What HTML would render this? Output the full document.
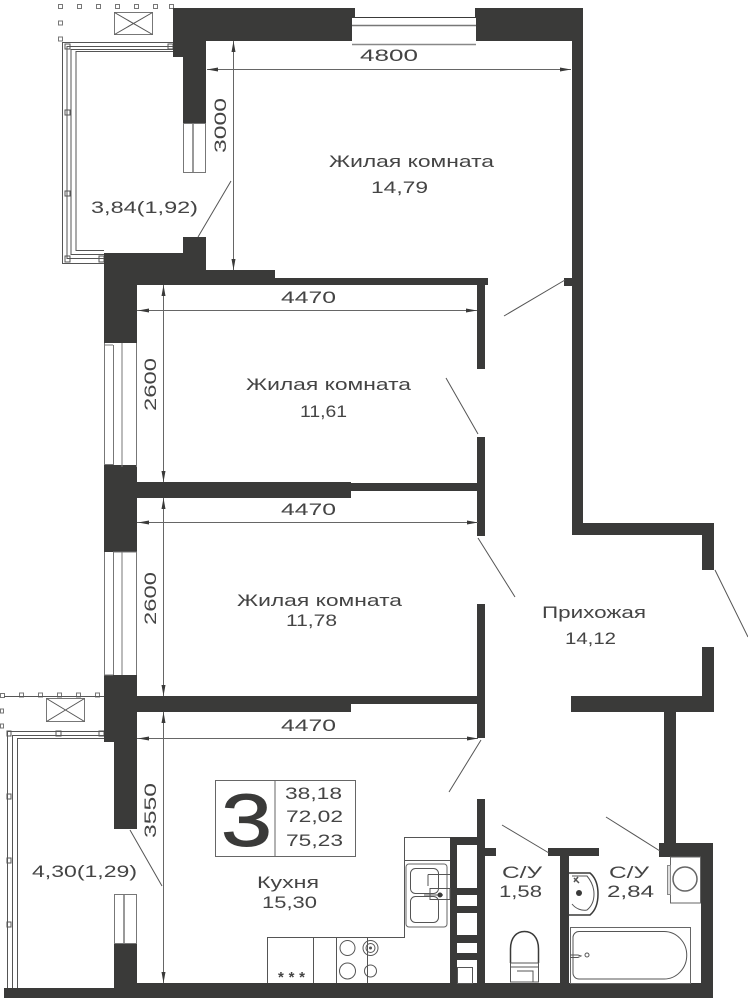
<!DOCTYPE html>
<html><head><meta charset="utf-8"><style>
html,body{margin:0;padding:0;background:#fff}
svg{display:block}
text{font-family:"Liberation Sans",sans-serif;fill:#444;font-size:17px}
.d{fill:#3a3a39}
.l{stroke:#555;stroke-width:1;fill:none}
.g{stroke:#777;stroke-width:1;fill:#fff}
.a{fill:#3a3a39}
</style></head><body>
<svg width="748" height="1000" viewBox="0 0 748 1000" xmlns="http://www.w3.org/2000/svg">
<g class="g">
<rect x="58.500" y="4.500" width="4" height="4"/><rect x="77.500" y="4.500" width="4" height="4"/><rect x="96.500" y="4.500" width="4" height="4"/><rect x="115.500" y="4.500" width="4" height="4"/><rect x="134.500" y="4.500" width="4" height="4"/><rect x="153.500" y="4.500" width="4" height="4"/><rect x="169.500" y="4.500" width="4" height="4"/><rect x="58.500" y="21" width="4" height="4"/><rect x="58.500" y="37" width="4" height="4"/>
<rect x="114.500" y="12.500" width="38" height="22"/>
</g>
<path class="l" d="M114.500 12.500L152.500 34.500M152.500 12.500L114.500 34.500"/>
<path class="l" d="M173 42.500H62.500V263.500H104M173 46.500H67V258.500H104M173 49.500H71V254.500H104M173 51.500H76V250.500H104"/>
<path class="l" d="M65 44v5h5v-5zM65 110v5h5v-5zM65 191v5h5v-5zM65 256v6h5v-6zM99 256v6h5v-6zM168 44v5h5v-5z"/>
<g class="g">
<rect x="0.500" y="693.500" width="4" height="4"/><rect x="19.500" y="693" width="4" height="4"/><rect x="38.500" y="693" width="4" height="4"/><rect x="57.500" y="693" width="4" height="4"/><rect x="76.500" y="693" width="4" height="4"/><rect x="95.500" y="693" width="4" height="4"/><rect x="0.500" y="709" width="3" height="4"/><rect x="0.500" y="724" width="3" height="4"/>
<rect x="46.500" y="698.500" width="38" height="23"/>
</g>
<path class="l" d="M46.500 698.500L84.500 721.500M84.500 698.500L46.500 721.500"/>
<path class="l" d="M4 696.500H104M114 731.500H7.500V990M114 735.500H12.500V990M114 738.500H17.500V990"/>
<path class="l" d="M56 731v5h5v-5zM99 731v5h5v-5zM7 794v5h4v-5zM7 858v5h4v-5zM7 922v5h4v-5zM7 731v5h4v-5z"/>
<g class="d">
<rect x="173" y="8" width="410" height="33"/>
<rect x="173" y="41" width="10" height="16"/>
<rect x="183" y="41" width="23" height="82"/>
<rect x="572" y="41" width="11" height="494"/>
<rect x="572" y="523" width="142" height="12"/>
<rect x="702" y="535" width="12" height="35"/>
<rect x="564" y="278" width="8" height="8"/>
<rect x="702" y="647" width="12" height="65"/>
<rect x="571" y="696" width="143" height="16"/>
<rect x="664" y="712" width="12" height="133"/>
<rect x="659" y="843" width="54" height="14"/>
<rect x="701" y="857" width="12" height="127"/>
<rect x="136" y="983" width="577" height="15"/>
<rect x="4" y="988" width="132" height="10"/>
<rect x="114" y="943" width="23" height="45"/>
<rect x="104" y="253" width="79" height="17"/>
<rect x="183" y="237" width="23" height="33"/>
<rect x="104" y="270" width="171" height="8"/>
<rect x="104" y="278" width="384" height="7"/>
<rect x="104" y="285" width="33" height="58"/>
<rect x="104" y="343" width="9" height="2"/>
<rect x="104" y="465" width="33" height="87"/>
<rect x="137" y="482" width="214" height="16"/>
<rect x="351" y="483" width="130" height="8"/>
<rect x="104" y="675" width="33" height="67"/>
<rect x="114" y="742" width="23" height="87"/>
<rect x="137" y="696" width="214" height="16"/>
<rect x="351" y="696" width="130" height="8"/>
<rect x="477" y="285" width="8" height="84"/>
<rect x="477" y="437" width="8" height="99"/>
<rect x="477" y="604" width="8" height="134"/>
<rect x="477" y="799" width="8" height="184"/>
<rect x="450" y="837" width="35" height="8"/>
<rect x="485" y="848" width="11" height="8"/>
<rect x="450" y="837" width="7" height="146"/>
<rect x="457" y="888" width="20" height="7"/>
<rect x="457" y="906" width="20" height="7"/>
<rect x="457" y="935" width="20" height="8"/>
<rect x="457" y="953" width="20" height="7"/>
<rect x="548" y="848" width="51" height="8"/>
<rect x="560" y="856" width="9" height="127"/>
</g>
<rect x="355" y="8" width="120" height="9" fill="#fff"/>
<rect x="352" y="18" width="124" height="23" fill="#fff"/>
<path d="M352 25.500H476" stroke="#777" stroke-width="1.500"/>
<path d="M352 44.500H476" stroke="#888" stroke-width="1.500"/>
<rect x="183.500" y="123.500" width="22" height="49" class="g"/>
<path d="M193 123V172" stroke="#777" stroke-width="1.500"/>
<rect x="104" y="343" width="33" height="122" fill="#fff"/>
<path d="M104.500 343V465M113.500 345V465M122 343V467M136.500 343V467" stroke="#777" stroke-width="1"/>
<path d="M104 345H113M104 464.500H113" stroke="#777"/>
<rect x="104" y="552" width="33" height="123" fill="#fff"/>
<path d="M104.500 552V675M113.500 552V675M122 552V675M136.500 552V675M113 552H137M104 675H113" stroke="#777" stroke-width="1"/>
<rect x="114.500" y="894.500" width="22" height="49" class="g"/>
<path d="M124 894V943" stroke="#777" stroke-width="1.500"/>
<path class="l" d="M198 237L231 181M504 316L565 280M446 378L478 434M478 538L515 597M449 792L481 740M130 830L162 886M715 570L748 637M502 825L549 853M606 817L660 851"/>
<path class="l" style="stroke:#666" d="M207 69.500H571M233.500 41V270M137 310.500H477M163.500 285V482M137 522.500H478M163.500 498V696M137 738.500H478M163.500 712V983"/>
<g class="a">
<path d="M207 69.500l11-2v4zM571 69.500l-11-2v4zM233.500 41l-2 11h4zM233.500 270l-2-11h4z"/>
<path d="M138 310.500l11-2v4zM477 310.500l-11-2v4zM163.500 285l-2 11h4zM163.500 482l-2-11h4z"/>
<path d="M138 522.500l11-2v4zM478 522.500l-11-2v4zM163.500 498l-2 11h4zM163.500 696l-2-11h4z"/>
<path d="M138 738.500l11-2v4zM478 738.500l-11-2v4zM163.500 712l-2 11h4zM163.500 983l-2-11h4z"/>
</g>
<rect x="215.500" y="780.500" width="140" height="76" fill="none" stroke="#666"/>
<path d="M275 780V857" stroke="#666"/>
<text x="221" y="846" style="font-size:74px;fill:#3a3a39" stroke="#3a3a39" stroke-width="1" textLength="51" lengthAdjust="spacingAndGlyphs">3</text>
<path class="l" d="M267.500 983V937.500H404.500V837.500H450M404.500 860.500H450M313.500 937V983M336.500 937V983M367.500 937V983"/>
<path class="l" style="stroke:#666" d="M406 867a3 3 0 0 1 3-3h35a3 3 0 0 1 3 3v57a3 3 0 0 1-3 3h-35a3 3 0 0 1-3-3z"/>
<rect x="410.500" y="868.500" width="28" height="25" rx="5" class="l"/>
<rect x="410.500" y="896.500" width="28" height="26" rx="5" class="l"/>
<path class="l" d="M428 874.500H450M428 874.500V886M430 888.500H450V899.500H430zM424 895H443"/>
<circle cx="440" cy="895" r="2.500" fill="#3a3a39"/>
<circle cx="347.500" cy="948" r="7.500" class="l"/><circle cx="370.500" cy="948" r="7.500" class="l"/><circle cx="370.500" cy="948" r="4.500" class="l"/><circle cx="370.500" cy="948" r="1.500" fill="#555"/>
<circle cx="347.500" cy="971" r="8" class="l"/><circle cx="370.500" cy="971" r="6" class="l"/>
<text x="278" y="982" style="font-size:15px;font-weight:bold" textLength="27">***</text>
<rect x="457.500" y="967.500" width="15" height="16" class="l"/>
<path d="M510.500 963V949C510.500 937 517 931.500 524.500 931.500S538.500 937 538.500 949V963" fill="none" stroke="#3a3a39" stroke-width="1.500"/>
<path class="l" d="M510.500 963H538.500V982H510.500zM510.500 967H538.500M517 971H533V982"/>
<path d="M569 873H590C596 878 598 886 598 894S596 910 590 915H569" fill="none" stroke="#3a3a39" stroke-width="1.500"/>
<path class="l" d="M572 876H587C592 882 594 888 594 894S592 906 587 910C582 911 576 909 572 904"/>
<circle cx="579" cy="893" r="3" fill="#3a3a39"/>
<path d="M574 878L579 883M578 877L574 882" stroke="#555" stroke-width="1.500"/>
<rect x="570.500" y="927.500" width="120" height="56" fill="none" stroke="#666"/>
<path class="l" d="M579 931.500H664A22.500 23.500 0 0 1 664 979H579A6 6 0 0 1 573 973V937A6 6 0 0 1 579 931.500Z"/>
<path class="l" d="M570 955H578L581 956L578 957.500H570"/><circle cx="587" cy="955" r="2" class="l"/>
<rect x="670.500" y="857" width="30" height="46" fill="none" stroke="#666"/>
<rect x="667.500" y="865.500" width="3" height="29" fill="#ddd" stroke="#888"/>
<circle cx="685" cy="879" r="12" fill="none" stroke="#666" stroke-width="1.500"/>
<text x="360" y="61" textLength="58" lengthAdjust="spacingAndGlyphs">4800</text>
<text transform="translate(226,153) rotate(-90)" textLength="55" lengthAdjust="spacingAndGlyphs">3000</text>
<text x="329" y="167" textLength="165" lengthAdjust="spacingAndGlyphs">Жилая комната</text>
<text x="371" y="193" textLength="57" lengthAdjust="spacingAndGlyphs">14,79</text>
<text x="91" y="213" textLength="107" lengthAdjust="spacingAndGlyphs">3,84(1,92)</text>
<text x="281" y="303" textLength="55" lengthAdjust="spacingAndGlyphs">4470</text>
<text transform="translate(156,411) rotate(-90)" textLength="53" lengthAdjust="spacingAndGlyphs">2600</text>
<text x="246" y="390" textLength="165" lengthAdjust="spacingAndGlyphs">Жилая комната</text>
<text x="300" y="417" textLength="47" lengthAdjust="spacingAndGlyphs">11,61</text>
<text x="281" y="515" textLength="55" lengthAdjust="spacingAndGlyphs">4470</text>
<text transform="translate(156,625) rotate(-90)" textLength="53" lengthAdjust="spacingAndGlyphs">2600</text>
<text x="237" y="606" textLength="165" lengthAdjust="spacingAndGlyphs">Жилая комната</text>
<text x="286" y="626" textLength="51" lengthAdjust="spacingAndGlyphs">11,78</text>
<text x="542" y="618" textLength="104" lengthAdjust="spacingAndGlyphs">Прихожая</text>
<text x="565" y="644" textLength="51" lengthAdjust="spacingAndGlyphs">14,12</text>
<text x="281" y="731" textLength="55" lengthAdjust="spacingAndGlyphs">4470</text>
<text transform="translate(156,838) rotate(-90)" textLength="55" lengthAdjust="spacingAndGlyphs">3550</text>
<text x="32" y="877" textLength="105" lengthAdjust="spacingAndGlyphs">4,30(1,29)</text>
<text x="257" y="888" textLength="62" lengthAdjust="spacingAndGlyphs">Кухня</text>
<text x="262" y="908" textLength="55" lengthAdjust="spacingAndGlyphs">15,30</text>
<text x="285" y="799" textLength="57" lengthAdjust="spacingAndGlyphs">38,18</text>
<text x="286" y="822" textLength="57" lengthAdjust="spacingAndGlyphs">72,02</text>
<text x="286" y="846" textLength="57" lengthAdjust="spacingAndGlyphs">75,23</text>
<text x="502" y="878" textLength="40" lengthAdjust="spacingAndGlyphs">С/У</text>
<text x="499" y="897" textLength="43" lengthAdjust="spacingAndGlyphs">1,58</text>
<text x="609" y="878" textLength="40" lengthAdjust="spacingAndGlyphs">С/У</text>
<text x="607" y="897" textLength="47" lengthAdjust="spacingAndGlyphs">2,84</text>
</svg>
</body></html>
